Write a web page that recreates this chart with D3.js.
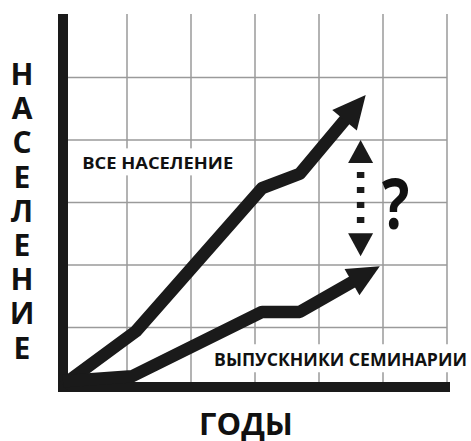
<!DOCTYPE html>
<html>
<head>
<meta charset="utf-8">
<script src="https://cdn.jsdelivr.net/npm/d3@7"></script>
<style>
  body { margin: 0; background: #fff; }
  text { font-family: "Open Sans", sans-serif; fill: #111; }
</style>
</head>
<body>
<div id="chart"></div>
<script>
// DATA (x = years, y = population, in grid units)
var gridX = [1, 2, 3, 4, 5, 6];
var gridY = [1, 2, 3, 4, 5, 6];

var allX = [0, 1.14, 3.11, 3.7, 4.73];
var allY = [0.08, 0.94, 3.23, 3.46, 4.72];

var gradX = [0, 1.08, 3.11, 3.7, 4.95];
var gradY = [0.14, 0.22, 1.25, 1.25, 1.98];

var gapX = [4.65, 4.65];
var gapY = [2.14, 4.0];

var labels = ["ВСЕ НАСЕЛЕНИЕ", "ВЫПУСКНИКИ СЕМИНАРИИ"];
var yTitle = "НАСЕЛЕНИЕ";
var xTitle = "ГОДЫ";

function drawChart() {
  var width = 471, height = 441;
  var ink = "#1a1a1a";

  var svg = d3
    .select("#chart")
    .append("svg")
    .attr("width", width)
    .attr("height", height);

  var xScale = d3.scaleLinear().domain([0, 6]).range([63, 447]);
  var yScale = d3.scaleLinear().domain([0, 6]).range([390, 15]);

  // GRID
  svg
    .selectAll(".vgrid")
    .data(gridX)
    .enter()
    .append("line")
    .attr("class", "vgrid")
    .attr("x1", (d) => xScale(d))
    .attr("x2", (d) => xScale(d))
    .attr("y1", yScale(6) - 1)
    .attr("y2", yScale(0))
    .attr("stroke", "#9a9a9a")
    .attr("stroke-width", 1.5);

  svg
    .selectAll(".hgrid")
    .data(gridY.slice(0, 5))
    .enter()
    .append("line")
    .attr("class", "hgrid")
    .attr("x1", xScale(0))
    .attr("x2", xScale(6))
    .attr("y1", (d) => yScale(d))
    .attr("y2", (d) => yScale(d))
    .attr("stroke", "#9a9a9a")
    .attr("stroke-width", 1.5);

  // SERIES LABELS (white box knocks out the grid)
  var labelPos = [
    { x: 0.3, y: 3.53, size: 16.5, w: 151 },
    { x: 2.36, y: 0.38, size: 18, w: 253 },
  ];
  labels.forEach(function (t, i) {
    var g = svg.append("g");
    var rect = g.append("rect").attr("fill", "#fff");
    var txt = g
      .append("text")
      .attr("x", xScale(labelPos[i].x))
      .attr("y", yScale(labelPos[i].y))
      .attr("textLength", labelPos[i].w)
      .attr("lengthAdjust", "spacingAndGlyphs")
      .style("font-size", labelPos[i].size + "px")
      .style("font-weight", 700)
      .text(t);
    var b = txt.node().getBBox();
    rect
      .attr("x", b.x - 4)
      .attr("y", b.y - 3)
      .attr("width", b.width + 8)
      .attr("height", b.height + 4);
  });

  // AXES (thick bars)
  svg
    .append("line")
    .attr("x1", xScale(0))
    .attr("x2", xScale(0))
    .attr("y1", yScale(6) - 1)
    .attr("y2", yScale(0) + 2)
    .attr("stroke", ink)
    .attr("stroke-width", 10);
  svg
    .append("line")
    .attr("x1", xScale(0) - 5)
    .attr("x2", xScale(6) + 3)
    .attr("y1", yScale(0) - 3)
    .attr("y2", yScale(0) - 3)
    .attr("stroke", ink)
    .attr("stroke-width", 10);

  // ARROW LINES
  var line = d3
    .line()
    .x((d) => d[0])
    .y((d) => d[1]);

  function arrowLine(xs, ys, headLen, headHalf) {
    var pts = xs.map((v, i) => [xScale(v), yScale(ys[i])]);
    var tip = pts[pts.length - 1];
    var prev = pts[pts.length - 2];
    var dx = tip[0] - prev[0],
      dy = tip[1] - prev[1];
    var len = Math.sqrt(dx * dx + dy * dy);
    var ux = dx / len,
      uy = dy / len;
    var base = [tip[0] - ux * headLen, tip[1] - uy * headLen];
    var linePts = pts.slice(0, -1).concat([[base[0] + ux * 4, base[1] + uy * 4]]);
    svg
      .append("path")
      .attr("d", line(linePts))
      .attr("fill", "none")
      .attr("stroke", ink)
      .attr("stroke-width", 12.5)
      .attr("stroke-linejoin", "round");
    svg
      .append("path")
      .attr(
        "d",
        line([
          tip,
          [base[0] - uy * headHalf, base[1] + ux * headHalf],
          [base[0] + uy * headHalf, base[1] - ux * headHalf],
        ]) + "Z"
      )
      .attr("fill", ink);
  }

  arrowLine(allX, allY, 33, 16);
  arrowLine(gradX, gradY, 32, 15);

  // GAP ARROW (dotted, double headed)
  var gx = xScale(gapX[0]);
  var yLow = yScale(gapY[0]),
    yHigh = yScale(gapY[1]);
  var headH = 23,
    headW = 12.5;
  svg
    .append("line")
    .attr("x1", gx)
    .attr("x2", gx)
    .attr("y1", yHigh + headH + 9)
    .attr("y2", yLow - headH - 3)
    .attr("stroke", ink)
    .attr("stroke-width", 7.5)
    .attr("stroke-dasharray", "6 9");
  [
    [yHigh, 1],
    [yLow, -1],
  ].forEach(function (h) {
    svg
      .append("path")
      .attr(
        "d",
        line([
          [gx, h[0]],
          [gx - headW, h[0] + h[1] * headH],
          [gx + headW, h[0] + h[1] * headH],
        ]) + "Z"
      )
      .attr("fill", ink);
  });

  svg
    .append("text")
    .attr("text-anchor", "middle")
    .attr(
      "transform",
      "translate(" + (gx + 35) + "," + ((yLow + yHigh) / 2 + 31) + ") scale(0.82,1)"
    )
    .style("font-size", "70px")
    .style("font-weight", 700)
    .text("?");

  // AXIS TITLES
  svg
    .selectAll(".ytitle")
    .data(yTitle.split(""))
    .enter()
    .append("text")
    .attr("class", "ytitle")
    .attr("x", 22)
    .attr("y", (d, i) => 85 + i * 34.2)
    .attr("text-anchor", "middle")
    .style("font-size", "30px")
    .style("font-weight", 700)
    .text((d) => d);

  svg
    .append("text")
    .attr("x", 246)
    .attr("y", 435)
    .attr("text-anchor", "middle")
    .style("font-size", "31px")
    .style("font-weight", 700)
    .text(xTitle);
}

drawChart();
</script>
</body>
</html>
